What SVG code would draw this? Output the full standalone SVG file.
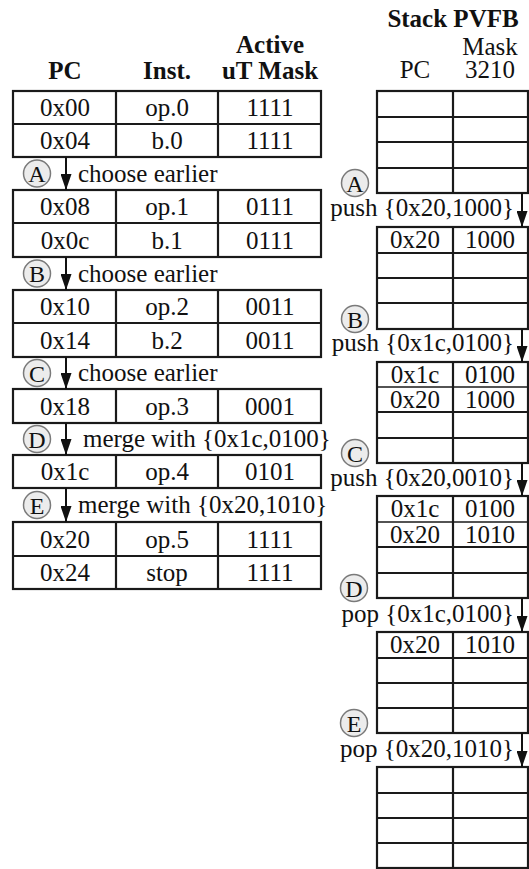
<svg xmlns="http://www.w3.org/2000/svg" width="529" height="869" viewBox="0 0 529 869" font-family="'Liberation Serif', 'Times New Roman', 'DejaVu Serif', serif">
  <style>
    text { font-family: 'Liberation Serif', 'Times New Roman', 'DejaVu Serif', serif; fill: #111; }
    .t { font-size: 25px; text-anchor: middle; }
    .h { font-size: 25px; font-weight: bold; text-anchor: middle; }
    .lbl { font-size: 25px; }
    .lblr { font-size: 25px; text-anchor: end; }
    .box { fill: #fff; stroke: #1a1a1a; stroke-width: 2.2; }
    .ln { stroke: #1a1a1a; stroke-width: 2.2; }
    .thin { stroke: #1a1a1a; stroke-width: 1.3; }
    .tag circle { fill: #ececec; stroke: #7a7a7a; stroke-width: 1.5; }
    .tag text { font-size: 24px; text-anchor: middle; }
    .arr { stroke: #111; stroke-width: 2; fill: none; marker-end: url(#down); }
  </style>
  <defs>
    <marker id="down" markerUnits="userSpaceOnUse" markerWidth="11" markerHeight="16" viewBox="0 0 11 16" refX="5.5" refY="16" orient="0">
      <path d="M0,0 L11,0 L5.5,16 Z" fill="#111"/>
    </marker>
  </defs>

  <!-- column headers -->
  <g id="headers">
    <text class="h" x="65" y="79">PC</text>
    <text class="h" x="167" y="79">Inst.</text>
    <text class="h" x="270" y="53">Active</text>
    <text class="h" x="270" y="79">uT Mask</text>
    <text class="h" x="453" y="27">Stack PVFB</text>
    <text class="t" x="490" y="55">Mask</text>
    <text class="t" x="415" y="78">PC</text>
    <text class="t" x="490" y="78">3210</text>
  </g>

  <!-- instruction blocks -->
  <g id="blk0">
    <rect class="box" x="13" y="91" width="308" height="66"/>
    <line class="ln" x1="13" y1="124" x2="321" y2="124"/>
    <line class="ln" x1="116" y1="91" x2="116" y2="157"/>
    <line class="ln" x1="218" y1="91" x2="218" y2="157"/>
    <text class="t" x="65" y="116">0x00</text><text class="t" x="167" y="116">op.0</text><text class="t" x="270" y="116">1111</text>
    <text class="t" x="65" y="149">0x04</text><text class="t" x="167" y="149">b.0</text><text class="t" x="270" y="149">1111</text>
  </g>
  <g id="blk1">
    <rect class="box" x="13" y="190" width="308" height="67"/>
    <line class="ln" x1="13" y1="223" x2="321" y2="223"/>
    <line class="ln" x1="116" y1="190" x2="116" y2="257"/>
    <line class="ln" x1="218" y1="190" x2="218" y2="257"/>
    <text class="t" x="65" y="215">0x08</text><text class="t" x="167" y="215">op.1</text><text class="t" x="270" y="215">0111</text>
    <text class="t" x="65" y="249">0x0c</text><text class="t" x="167" y="249">b.1</text><text class="t" x="270" y="249">0111</text>
  </g>
  <g id="blk2">
    <rect class="box" x="13" y="290" width="308" height="67"/>
    <line class="ln" x1="13" y1="323" x2="321" y2="323"/>
    <line class="ln" x1="116" y1="290" x2="116" y2="357"/>
    <line class="ln" x1="218" y1="290" x2="218" y2="357"/>
    <text class="t" x="65" y="315">0x10</text><text class="t" x="167" y="315">op.2</text><text class="t" x="270" y="315">0011</text>
    <text class="t" x="65" y="349">0x14</text><text class="t" x="167" y="349">b.2</text><text class="t" x="270" y="349">0011</text>
  </g>
  <g id="blk3">
    <rect class="box" x="13" y="389" width="308" height="34"/>
    <line class="ln" x1="116" y1="389" x2="116" y2="423"/>
    <line class="ln" x1="218" y1="389" x2="218" y2="423"/>
    <text class="t" x="65" y="415">0x18</text><text class="t" x="167" y="415">op.3</text><text class="t" x="270" y="415">0001</text>
  </g>
  <g id="blk4">
    <rect class="box" x="13" y="455" width="308" height="33"/>
    <line class="ln" x1="116" y1="455" x2="116" y2="488"/>
    <line class="ln" x1="218" y1="455" x2="218" y2="488"/>
    <text class="t" x="65" y="480">0x1c</text><text class="t" x="167" y="480">op.4</text><text class="t" x="270" y="480">0101</text>
  </g>
  <g id="blk5">
    <rect class="box" x="13" y="522" width="308" height="67"/>
    <line class="ln" x1="13" y1="556" x2="321" y2="556"/>
    <line class="ln" x1="116" y1="522" x2="116" y2="589"/>
    <line class="ln" x1="218" y1="522" x2="218" y2="589"/>
    <text class="t" x="65" y="548">0x20</text><text class="t" x="167" y="548">op.5</text><text class="t" x="270" y="548">1111</text>
    <text class="t" x="65" y="581">0x24</text><text class="t" x="167" y="581">stop</text><text class="t" x="270" y="581">1111</text>
  </g>

  <!-- stack snapshots -->
  <g id="stk0">
    <rect class="box" x="377" y="91" width="151" height="102"/>
    <line class="ln" x1="377" y1="117" x2="528" y2="117"/>
    <line class="ln" x1="377" y1="142" x2="528" y2="142"/>
    <line class="ln" x1="377" y1="168" x2="528" y2="168"/>
    <line class="ln" x1="453" y1="91" x2="453" y2="193"/>
  </g>
  <g id="stk1">
    <rect class="box" x="377" y="227" width="151" height="102"/>
    <line class="ln" x1="377" y1="253" x2="528" y2="253"/>
    <line class="ln" x1="377" y1="278" x2="528" y2="278"/>
    <line class="ln" x1="377" y1="303" x2="528" y2="303"/>
    <line class="ln" x1="453" y1="227" x2="453" y2="329"/>
    <text class="t" x="415" y="248">0x20</text><text class="t" x="490" y="248">1000</text>
  </g>
  <g id="stk2">
    <rect class="box" x="377" y="362" width="151" height="101"/>
    <line class="thin" x1="377" y1="387" x2="528" y2="387"/>
    <line class="ln" x1="377" y1="412" x2="528" y2="412"/>
    <line class="ln" x1="377" y1="438" x2="528" y2="438"/>
    <line class="ln" x1="453" y1="362" x2="453" y2="463"/>
    <text class="t" x="415" y="383">0x1c</text><text class="t" x="490" y="383">0100</text>
    <text class="t" x="415" y="408">0x20</text><text class="t" x="490" y="408">1000</text>
  </g>
  <g id="stk3">
    <rect class="box" x="377" y="496" width="151" height="102"/>
    <line class="thin" x1="377" y1="522" x2="528" y2="522"/>
    <line class="ln" x1="377" y1="547" x2="528" y2="547"/>
    <line class="ln" x1="377" y1="573" x2="528" y2="573"/>
    <line class="ln" x1="453" y1="496" x2="453" y2="598"/>
    <text class="t" x="415" y="517">0x1c</text><text class="t" x="490" y="517">0100</text>
    <text class="t" x="415" y="543">0x20</text><text class="t" x="490" y="543">1010</text>
  </g>
  <g id="stk4">
    <rect class="box" x="377" y="632" width="151" height="101"/>
    <line class="ln" x1="377" y1="658" x2="528" y2="658"/>
    <line class="ln" x1="377" y1="683" x2="528" y2="683"/>
    <line class="ln" x1="377" y1="708" x2="528" y2="708"/>
    <line class="ln" x1="453" y1="632" x2="453" y2="733"/>
    <text class="t" x="415" y="653">0x20</text><text class="t" x="490" y="653">1010</text>
  </g>
  <g id="stk5">
    <rect class="box" x="377" y="767" width="151" height="101"/>
    <line class="ln" x1="377" y1="793" x2="528" y2="793"/>
    <line class="ln" x1="377" y1="818" x2="528" y2="818"/>
    <line class="ln" x1="377" y1="843" x2="528" y2="843"/>
    <line class="ln" x1="453" y1="767" x2="453" y2="868"/>
  </g>

  <!-- transitions -->
  <g id="connectors">
    <line class="arr" x1="66" y1="157" x2="66" y2="190"/>
    <line class="arr" x1="66" y1="257" x2="66" y2="290"/>
    <line class="arr" x1="66" y1="357" x2="66" y2="389"/>
    <line class="arr" x1="66" y1="423" x2="66" y2="455"/>
    <line class="arr" x1="66" y1="488" x2="66" y2="522"/>
    <line class="arr" x1="522" y1="193" x2="522" y2="227"/>
    <line class="arr" x1="522" y1="329" x2="522" y2="362"/>
    <line class="arr" x1="522" y1="463" x2="522" y2="496"/>
    <line class="arr" x1="522" y1="598" x2="522" y2="632"/>
    <line class="arr" x1="522" y1="733" x2="522" y2="767"/>
  </g>

  <!-- transition labels -->
  <g id="labels">
    <text class="lbl" x="78" y="182">choose earlier</text>
    <text class="lbl" x="78" y="282">choose earlier</text>
    <text class="lbl" x="78" y="381">choose earlier</text>
    <text class="lbl" x="83" y="447">merge with {0x1c,0100}</text>
    <text class="lbl" x="78" y="513">merge with {0x20,1010}</text>
    <text class="lblr" x="514" y="216">push {0x20,1000}</text>
    <text class="lblr" x="514" y="351">push {0x1c,0100}</text>
    <text class="lblr" x="514" y="486">push {0x20,0010}</text>
    <text class="lblr" x="514" y="622">pop {0x1c,0100}</text>
    <text class="lblr" x="514" y="757">pop {0x20,1010}</text>
  </g>

  <g id="tags">
    <g class="tag"><circle cx="37" cy="173.5" r="13.5"/><text x="37" y="182">A</text></g>
    <g class="tag"><circle cx="37" cy="273.5" r="13.5"/><text x="37" y="282">B</text></g>
    <g class="tag"><circle cx="37" cy="373" r="13.5"/><text x="37" y="381.5">C</text></g>
    <g class="tag"><circle cx="37" cy="439" r="13.5"/><text x="37" y="447.5">D</text></g>
    <g class="tag"><circle cx="37" cy="505" r="13.5"/><text x="37" y="513.5">E</text></g>
    <g class="tag"><circle cx="355" cy="183" r="13.5"/><text x="355" y="191.5">A</text></g>
    <g class="tag"><circle cx="355" cy="319" r="13.5"/><text x="355" y="327.5">B</text></g>
    <g class="tag"><circle cx="355" cy="453" r="13.5"/><text x="355" y="461.5">C</text></g>
    <g class="tag"><circle cx="354" cy="588" r="13.5"/><text x="354" y="596.5">D</text></g>
    <g class="tag"><circle cx="354" cy="723" r="13.5"/><text x="354" y="731.5">E</text></g>
  </g>
</svg>
